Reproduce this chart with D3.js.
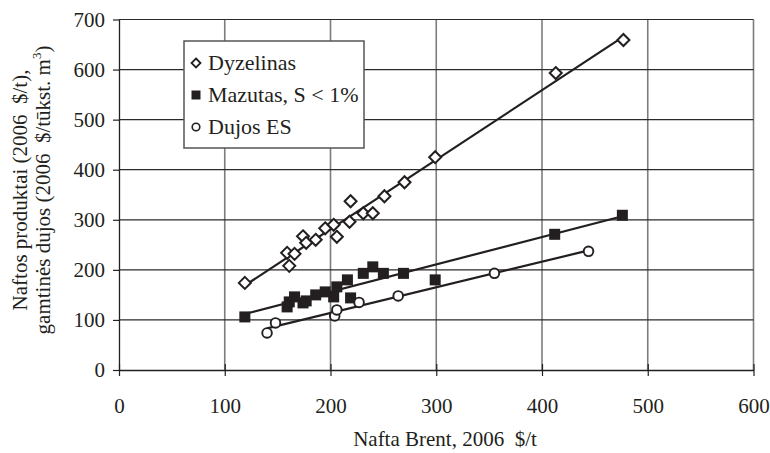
<html>
<head>
<style>
body { margin: 0; background: #fff; }
text { font-family: "Liberation Serif", "Times New Roman", serif; fill: #231f20; }
</style>
<script src="https://d3js.org/d3.v7.min.js"></script>
</head>
<body>
<div id="viz"></div>
<script>

// Nafta Brent, 2006 $/t  vs product prices
var dyzelinasX = [119, 159, 161, 166, 174, 177, 186, 195, 203, 206, 218, 219, 231, 240, 251, 270, 299, 413, 477];
var dyzelinasY = [174, 234, 208, 232, 267, 254, 260, 283, 290, 266, 296, 337, 313, 313, 347, 375, 425, 593, 659];

var mazutasX = [119, 159, 161, 166, 174, 177, 186, 195, 203, 206, 216, 219, 231, 240, 250, 269, 299, 412, 476];
var mazutasY = [106, 126, 136, 146, 134, 138, 150, 156, 146, 166, 180, 144, 193, 206, 193, 193, 180, 271, 309];

var dujosX = [140, 148, 204, 206, 227, 264, 355, 444];
var dujosY = [74, 94, 108, 120, 135, 148, 193, 237];

var xTicks = [0, 100, 200, 300, 400, 500, 600];
var yTicks = [0, 100, 200, 300, 400, 500, 600, 700];
var legendNames = ["Dyzelinas", "Mazutas, S < 1%", "Dujos ES"];

var width = 770, height = 453;
var ink = "#231f20";

var svg = d3.select("#viz").append("svg")
    .attr("width", width)
    .attr("height", height);

var x = d3.scaleLinear().domain([0, 600]).range([119, 753.5]);
var y = d3.scaleLinear().domain([0, 700]).range([370, 19.5]);

// grid
svg.append("g").selectAll("line")
  .data(xTicks.slice(1))
  .enter().append("line")
    .attr("x1", function(d) { return x(d); })
    .attr("x2", function(d) { return x(d); })
    .attr("y1", y(0)).attr("y2", y(700))
    .attr("stroke", "#7d7d7d").attr("stroke-width", 1.6);

svg.append("g").selectAll("line")
  .data(yTicks.slice(1))
  .enter().append("line")
    .attr("x1", x(0)).attr("x2", x(600))
    .attr("y1", function(d) { return y(d); })
    .attr("y2", function(d) { return y(d); })
    .attr("stroke", "#2a2a2a").attr("stroke-width", 1.2);

// axes
var xAxis = svg.append("g")
    .attr("transform", "translate(0," + y(0) + ")")
    .call(d3.axisBottom(x).tickValues(xTicks).tickSizeInner(6).tickSizeOuter(0).tickPadding(22));
xAxis.select(".domain").attr("stroke", ink).attr("stroke-width", 1.3);
xAxis.selectAll(".tick line").attr("stroke", ink).attr("stroke-width", 1.2).attr("y1", -6);
xAxis.selectAll("text").attr("font-size", "21px").attr("fill", ink)
    .style("font-family", "'Liberation Serif', serif");

var yAxis = svg.append("g")
    .attr("transform", "translate(" + x(0) + ",0)")
    .call(d3.axisLeft(y).tickValues(yTicks).tickSizeInner(6).tickSizeOuter(0).tickPadding(8));
yAxis.select(".domain").attr("stroke", ink).attr("stroke-width", 1.3);
yAxis.selectAll(".tick line").attr("stroke", ink).attr("stroke-width", 1.2);
yAxis.selectAll("text").attr("font-size", "21px").attr("fill", ink)
    .style("font-family", "'Liberation Serif', serif");

// trend lines (least squares)
function fit(xs, ys) {
  var mx = d3.mean(xs), my = d3.mean(ys);
  var num = d3.sum(xs, function(v, i) { return (v - mx) * (ys[i] - my); });
  var den = d3.sum(xs, function(v) { return (v - mx) * (v - mx); });
  var b = num / den, a = my - b * mx;
  var x0 = d3.min(xs), x1 = d3.max(xs);
  return [[x0, a + b * x0], [x1, a + b * x1]];
}

[[dyzelinasX, dyzelinasY], [mazutasX, mazutasY], [dujosX, dujosY]].forEach(function(s) {
  var f = fit(s[0], s[1]);
  svg.append("line")
    .attr("x1", x(f[0][0])).attr("y1", y(f[0][1]))
    .attr("x2", x(f[1][0])).attr("y2", y(f[1][1]))
    .attr("stroke", ink).attr("stroke-width", 2.2);
});

function diamond(r) {
  return "M0," + (-r) + "L" + r + ",0L0," + r + "L" + (-r) + ",0Z";
}

// markers
svg.append("g").selectAll("path")
  .data(dyzelinasX)
  .enter().append("path")
    .attr("d", diamond(6))
    .attr("transform", function(d, i) { return "translate(" + x(d) + "," + y(dyzelinasY[i]) + ")"; })
    .attr("fill", "#fff").attr("stroke", ink).attr("stroke-width", 2);

svg.append("g").selectAll("rect")
  .data(mazutasX)
  .enter().append("rect")
    .attr("x", function(d) { return x(d) - 5.5; })
    .attr("y", function(d, i) { return y(mazutasY[i]) - 5.5; })
    .attr("width", 11).attr("height", 11)
    .attr("fill", ink);

svg.append("g").selectAll("circle")
  .data(dujosX)
  .enter().append("circle")
    .attr("cx", function(d) { return x(d); })
    .attr("cy", function(d, i) { return y(dujosY[i]); })
    .attr("r", 4.8)
    .attr("fill", "#fff").attr("stroke", ink).attr("stroke-width", 1.9);

// legend
var legend = svg.append("g");
legend.append("rect")
    .attr("x", 184).attr("y", 41).attr("width", 180).attr("height", 107)
    .attr("fill", "#fff").attr("stroke", "#555").attr("stroke-width", 1.5);

var rows = legend.selectAll("g.row")
  .data(legendNames)
  .enter().append("g")
    .attr("class", "row")
    .attr("transform", function(d, i) { return "translate(196," + (63 + 32 * i) + ")"; });

rows.each(function(d, i) {
  var g = d3.select(this);
  if (i == 0) {
    g.append("path").attr("d", diamond(4.5)).attr("fill", "#fff").attr("stroke", ink).attr("stroke-width", 1.8);
  } else if (i == 1) {
    g.append("rect").attr("x", -4.5).attr("y", -4.5).attr("width", 9).attr("height", 9).attr("fill", ink);
  } else {
    g.append("circle").attr("r", 3.8).attr("fill", "#fff").attr("stroke", ink).attr("stroke-width", 1.6);
  }
});

rows.append("text")
    .attr("x", 12).attr("y", 7)
    .attr("font-size", "22px")
    .text(function(d) { return d; });

// axis titles
svg.append("text")
    .attr("x", 445).attr("y", 446)
    .attr("text-anchor", "middle")
    .attr("font-size", "21px")
    .attr("xml:space", "preserve")
    .text("Nafta Brent, 2006  $/t");

var yt = svg.append("g").attr("transform", "translate(0,190) rotate(-90)");
yt.append("text")
    .attr("x", 0).attr("y", 27)
    .attr("text-anchor", "middle")
    .attr("font-size", "21px")
    .attr("xml:space", "preserve")
    .text("Naftos produktai (2006  $/t),");
var t2 = yt.append("text")
    .attr("x", 0).attr("y", 50)
    .attr("text-anchor", "middle")
    .attr("font-size", "21px")
    .attr("xml:space", "preserve");
t2.append("tspan").text("gamtinės dujos (2006  $/tūkst. m");
t2.append("tspan").attr("dy", -9).attr("font-size", "13px").text("3");
t2.append("tspan").attr("dy", 9).text(")");

</script>
</body>
</html>
